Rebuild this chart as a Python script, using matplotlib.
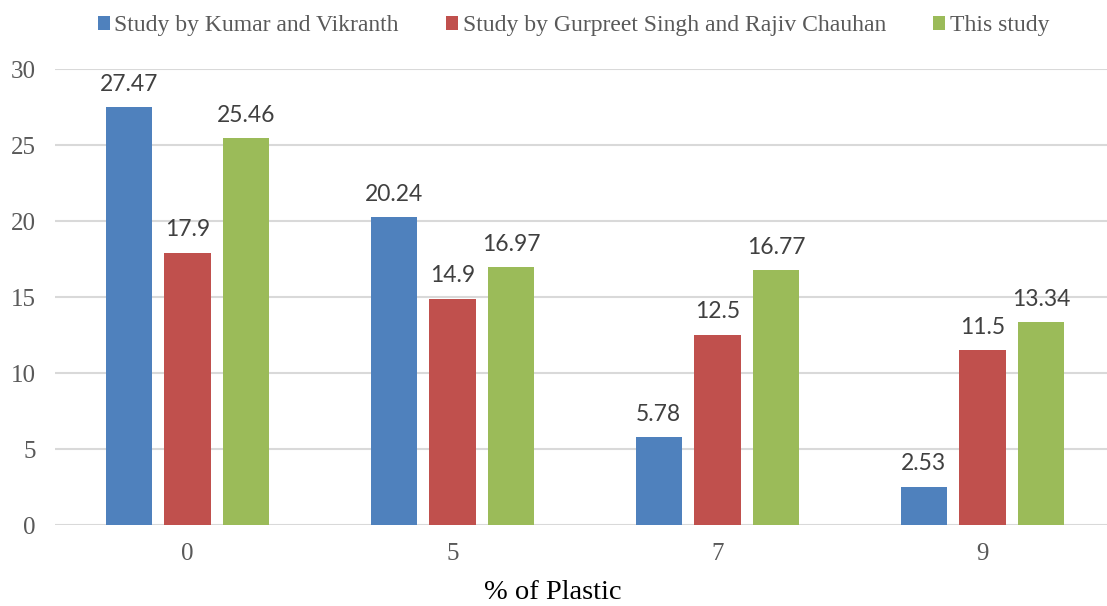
import matplotlib.pyplot as plt
import numpy as np

categories = ["0", "5", "7", "9"]
series_names = ["Study by Kumar and Vikranth",
                "Study by Gurpreet Singh and Rajiv Chauhan",
                "This study"]
kumar = [27.47, 20.24, 5.78, 2.53]
gurpreet = [17.9, 14.9, 12.5, 11.5]
this_study = [25.46, 16.97, 16.77, 13.34]
values = [kumar, gurpreet, this_study]
value_labels = [["27.47", "20.24", "5.78", "2.53"],
                ["17.9", "14.9", "12.5", "11.5"],
                ["25.46", "16.97", "16.77", "13.34"]]
colors = ["#4F81BD", "#C0504D", "#9BBB59"]

fig = plt.figure(figsize=(11.07, 6.06), dpi=100)
ax = fig.add_axes([55 / 1107, 1 - 525 / 606, 1060 / 1107, 456 / 606])

x = np.arange(len(categories))
width = 0.174
step = 0.222
for i, (vals, name, c) in enumerate(zip(values, series_names, colors)):
    pos = x + (i - 1) * step
    bars = ax.bar(pos, vals, width, color=c, label=name, zorder=3)
    for b, lab in zip(bars, value_labels[i]):
        ax.annotate(lab, (b.get_x() + b.get_width() / 2, b.get_height()),
                    xytext=(0, 9), textcoords="offset points",
                    ha="center", va="bottom", fontsize=16.5,
                    family="Lato", color="#404040")

ax.set_ylim(0, 30)
ax.set_xlim(-0.5, 3.5)
ax.set_yticks([0, 5, 10, 15, 20, 25, 30])
ax.set_xticks(x)
ax.set_xticklabels(categories)
ax.grid(axis="y", color="#D9D9D9", linewidth=1.5, zorder=0)
for s in ax.spines.values():
    s.set_visible(False)
ax.tick_params(length=0, labelsize=18, labelcolor="#595959", pad=14)
ax.tick_params(axis="x", pad=13)
for t in ax.get_xticklabels() + ax.get_yticklabels():
    t.set_family("Liberation Serif")

# axis title is centred on the figure, not on the plot area
ax.set_xlabel("% of Plastic", family="Liberation Serif", fontsize=20.5,
              color="black", va="center")
ax.xaxis.set_label_coords(0.47, -0.149)

fig.legend(loc="upper center", bbox_to_anchor=(0.518, 1.01), ncol=3, frameon=False,
           prop={"family": "Liberation Serif", "size": 17},
           labelcolor="#595959", handlelength=0.5, handleheight=0.5,
           handletextpad=0.2, columnspacing=2.0)

fig.savefig("out.png", dpi=100)
